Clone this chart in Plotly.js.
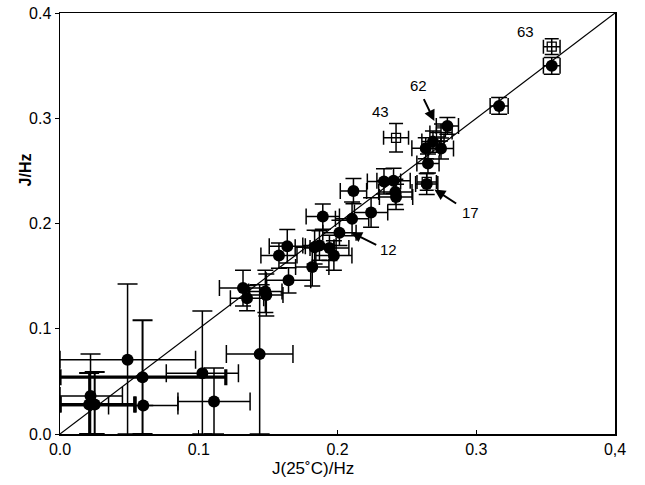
<!DOCTYPE html>
<html><head><meta charset="utf-8">
<script src="https://cdn.plot.ly/plotly-3.0.1.min.js"></script>
<style>body{margin:0;background:#fff}#c{width:645px;height:485px}</style>
</head><body><div id="c"></div>
<script>
// Low-J points (large, asymmetric error bars)
const lowX   = [0.0487, 0.1026, 0.111, 0.1439, 0.022, 0.060];
const lowY   = [0.0705, 0.0578, 0.0308, 0.0759, 0.036, 0.027];
const lowXp  = [0.049, 0.026, 0.026, 0.024, 0.023, 0.025];
const lowXm  = [0.0487, 0.026, 0.026, 0.024, 0.022, 0.025];
const lowYp  = [0.072, 0.059, 0.032, 0.066, 0.040, 0.0];
const lowYm  = [0.0705, 0.0578, 0.0308, 0.0759, 0.036, 0.0];
// Low-J points drawn with heavy horizontal bars
const thkX   = [0.0595, 0.021, 0.025];
const thkY   = [0.054, 0.028, 0.028];
const thkXp  = [0.060, 0.033, 0.029];
const thkXm  = [0.0595, 0.021, 0.025];
const thkYp  = [0.054, 0.030, 0.031];
const thkYm  = [0.054, 0.028, 0.028];
// Filled circles
const fX = [0.1319,0.1348,0.148,0.1487,0.1647,0.1578,0.1638,0.1818,0.1835,0.1870,0.1942,0.1974,0.2014,0.1894,0.2105,0.2115,0.2242,0.2335,0.2404,0.2417,0.2422,0.2643,0.2652,0.2636,0.2688,0.2746,0.2792,0.3165,0.3544];
const fY = [0.1387,0.129,0.1355,0.132,0.146,0.1695,0.1784,0.1587,0.1775,0.1790,0.1768,0.1695,0.1912,0.2066,0.2044,0.2308,0.2105,0.2400,0.2406,0.2300,0.2252,0.2375,0.2570,0.2715,0.2778,0.2712,0.2927,0.3117,0.3498];
const fXe = [0.017,0.012,0.012,0.012,0.016,0.013,0.013,0.012,0.014,0.012,0.014,0.013,0.012,0.012,0.012,0.0095,0.012,0.012,0.012,0.012,0.012,0.008,0.008,0.010,0.008,0.009,0.008,0.0065,0.006];
const fYe = [0.017,0.012,0.020,0.020,0.012,0.012,0.016,0.018,0.016,0.014,0.012,0.014,0.012,0.012,0.016,0.012,0.014,0.012,0.012,0.012,0.012,0.010,0.009,0.010,0.010,0.010,0.008,0.008,0.008];
// Open squares
const oX  = [0.2422, 0.2746, 0.2643, 0.3544];
const oY  = [0.2814, 0.2865, 0.2395, 0.368];
const oXe = [0.009, 0.008, 0.007, 0.006];
const oYe = [0.0135, 0.008, 0.008, 0.0075];
// Labels
const labText = ['63','62','43','17','12'];
const labX = [0.3353, 0.2583, 0.231, 0.2960, 0.2370];
const labY = [0.382, 0.331, 0.3067, 0.2105, 0.175];
const arrHead = [[0.2698,0.2974],[0.2698,0.2324],[0.2098,0.1917]];
const arrTail = [[0.2617,0.3196],[0.2866,0.2181],[0.229,0.179]];
const xTickVals = [0, 0.1, 0.2, 0.3, 0.4];
const xTickText = ['0.0','0.1','0.2','0.3','0,4'];
const yTickVals = [0, 0.1, 0.2, 0.3, 0.4];
const yTickText = ['0.0','0.1','0.2','0.3','0.4'];

const blk = '#000';
const fam = 'Liberation Sans, Arial, sans-serif';
const traces = [
 {x:lowX,y:lowY,type:'scatter',mode:'markers',marker:{color:blk,size:12},
  error_x:{type:'data',symmetric:false,array:lowXp,arrayminus:lowXm,color:blk,thickness:1.5,width:9},
  error_y:{type:'data',symmetric:false,array:lowYp,arrayminus:lowYm,color:blk,thickness:1.5,width:10}},
 {x:thkX,y:thkY,type:'scatter',mode:'markers',marker:{color:blk,size:12},
  error_x:{type:'data',symmetric:false,array:thkXp,arrayminus:thkXm,color:blk,thickness:3.2,width:8},
  error_y:{type:'data',symmetric:false,array:thkYp,arrayminus:thkYm,color:blk,thickness:2,width:10}},
 {x:oX,y:oY,type:'scatter',mode:'markers',marker:{color:blk,size:9,symbol:'square-open',line:{width:1.3,color:blk}},
  error_x:{type:'data',array:oXe,color:blk,thickness:1.5,width:7},
  error_y:{type:'data',array:oYe,color:blk,thickness:1.5,width:7}},
 {x:fX,y:fY,type:'scatter',mode:'markers',marker:{color:blk,size:12},
  error_x:{type:'data',array:fXe,color:blk,thickness:1.5,width:8},
  error_y:{type:'data',array:fYe,color:blk,thickness:1.5,width:8}}
];
const ann = [];
for (let i=0;i<labText.length;i++){
  ann.push({x:labX[i],y:labY[i],xref:'x',yref:'y',text:labText[i],showarrow:false,
    font:{family:fam,size:15,color:blk}});
}
for (let i=0;i<arrHead.length;i++){
  ann.push({x:arrHead[i][0],y:arrHead[i][1],ax:arrTail[i][0],ay:arrTail[i][1],
    xref:'x',yref:'y',axref:'x',ayref:'y',text:'',showarrow:true,
    arrowhead:2,arrowsize:1.1,arrowwidth:2,arrowcolor:blk});
}
ann.push({xref:'paper',yref:'paper',x:0.456,y:-0.082,yanchor:'middle',text:'J(25˚C)/Hz',showarrow:false,
  font:{family:fam,size:17,color:blk}});
ann.push({xref:'paper',yref:'paper',x:-0.063,y:0.67,xanchor:'center',text:'<b>J/Hz</b>',textangle:-90,showarrow:false,
  font:{family:fam,size:16,color:blk}});

const layout = {
  width:645,height:485,margin:{l:60,r:30,t:13,b:51},
  paper_bgcolor:'#fff',plot_bgcolor:'#fff',showlegend:false,
  font:{family:fam,size:16,color:blk},
  xaxis:{range:[0,0.4],tickvals:xTickVals,ticktext:xTickText,showgrid:false,zeroline:false,
    showline:true,mirror:true,linecolor:blk,linewidth:1.5,ticks:'inside',ticklen:4,tickcolor:blk,
    tickfont:{family:fam,size:16,color:blk}},
  yaxis:{range:[0,0.4],tickvals:yTickVals,ticktext:yTickText,showgrid:false,zeroline:false,
    showline:true,mirror:true,linecolor:blk,linewidth:1.5,ticks:'outside',ticklen:4,tickcolor:blk,
    tickfont:{family:fam,size:16,color:blk}},
  shapes:[{type:'line',xref:'x',yref:'y',x0:0,y0:0,x1:0.4,y1:0.4,line:{color:blk,width:1.2}}],
  annotations:ann
};
Plotly.newPlot('c',traces,layout,{staticPlot:true});
</script></body></html>
